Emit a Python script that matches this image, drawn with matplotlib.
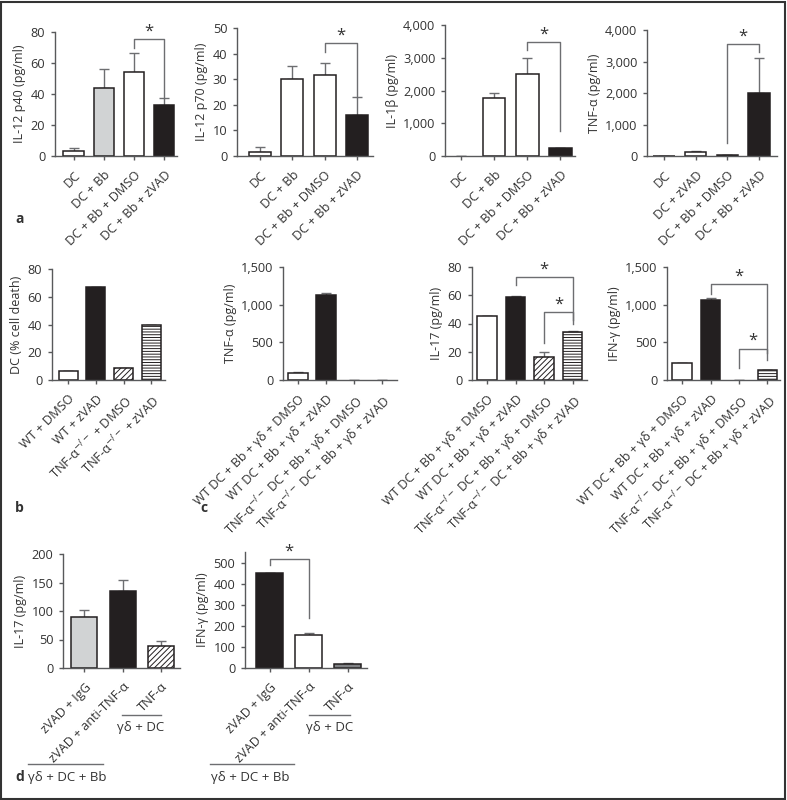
import numpy as np
import matplotlib
matplotlib.use("Agg")
import matplotlib.pyplot as plt
from matplotlib.ticker import FuncFormatter
from matplotlib.lines import Line2D
from matplotlib.patches import Rectangle

plt.rcParams["font.family"] = ["Open Sans", "DejaVu Sans"]
plt.rcParams["font.size"] = 9.2
plt.rcParams["hatch.linewidth"] = 0.7
plt.rcParams["text.color"] = "#333333"
plt.rcParams["axes.labelcolor"] = "#333333"
plt.rcParams["xtick.color"] = "#58595b"
plt.rcParams["ytick.color"] = "#58595b"
plt.rcParams["xtick.labelcolor"] = "#333333"
plt.rcParams["ytick.labelcolor"] = "#333333"

# ── Data ──────────────────────────────────────────────
ko = "TNF-α$^{-/-}$"

a_labels = ["DC", "DC + Bb", "DC + Bb + DMSO", "DC + Bb + zVAD"]
a_tnf_labels = ["DC", "DC + zVAD", "DC + Bb + DMSO", "DC + Bb + zVAD"]
il12p40 = [3.5, 44, 54.5, 33]
il12p40_err = [1.5, 12, 12, 4.5]
il12p70 = [1.5, 30, 31.5, 16]
il12p70_err = [2, 5, 5, 7]
il1b = [0, 1770, 2500, 250]
il1b_err = [0, 140, 500, 0]
a_tnf = [15, 140, 25, 2000]
a_tnf_err = [0, 10, 0, 1100]

b_labels = ["WT + DMSO", "WT + zVAD", ko + " + DMSO", ko + " + zVAD"]
b_death = [6.5, 67, 8.5, 39.5]
b_err = [0, 0, 0, 0]

c_labels = ["WT DC + Bb + γδ + DMSO", "WT DC + Bb + γδ + zVAD",
            ko + " DC + Bb + γδ + DMSO", ko + " DC + Bb + γδ + zVAD"]
c_tnf = [90, 1130, 0, 0]
c_tnf_err = [15, 20, 0, 0]
c_il17 = [45, 59, 16.5, 34]
c_il17_err = [0, 0.6, 3.5, 0.5]
c_ifn = [225, 1060, 0, 130]
c_ifn_err = [5, 25, 0, 5]

d_labels = ["zVAD + IgG", "zVAD + anti-TNF-α", "TNF-α"]
d_il17 = [90, 135, 38]
d_il17_err = [12, 19, 10]
d_ifn = [450, 155, 20]
d_ifn_err = [0, 13, 5]

# ── Styles ────────────────────────────────────────────
EDGE = "#231f20"
BLACK = "#231f20"
LGRAY = "#d1d3d4"
DGRAY = "#808285"
WHITE = "white"
LINE = "#6d6e71"
DIAG = "//////"
HORIZ = "------"

W, H = 787, 800
fig = plt.figure(figsize=(W / 100, H / 100), dpi=100)
fmt = FuncFormatter(lambda v, p: f"{v:,.0f}")


def panel(x0, x1, ytop, ybot, xlim):
    ax = fig.add_axes([x0 / W, 1 - ybot / H, (x1 - x0) / W, (ybot - ytop) / H])
    ax.set_xlim(*xlim)
    for s in ["top", "right"]:
        ax.spines[s].set_visible(False)
    for s in ["left", "bottom"]:
        ax.spines[s].set_color("#58595b")
        ax.spines[s].set_linewidth(1.0)
    ax.tick_params(length=3, width=1.0)
    ax.tick_params(axis="x", pad=6)
    ax.tick_params(axis="y", pad=4)
    return ax


def bars(ax, vals, errs, colors, hatches, labels, ymax, ystep, ylabel, width=0.68, ytop=None):
    x = np.arange(len(vals))
    ax.errorbar(x, vals, yerr=[np.zeros(len(errs)), errs], fmt="none",
                ecolor=LINE, elinewidth=1, capsize=3.5, capthick=1, zorder=1)
    rects = ax.bar(x, vals, width, color=colors, edgecolor=EDGE, linewidth=1.1, zorder=2)
    for r, h, v in zip(rects, hatches, vals):
        if h:
            r.set_hatch(h)
        if v == 0:
            r.set_linewidth(0)
    ax.set_ylim(0, ytop if ytop else ymax)
    ax.set_yticks(np.arange(0, ymax + ystep / 2, ystep))
    ax.yaxis.set_major_formatter(fmt)
    ax.set_xticks(x)
    ax.set_xticklabels(labels, rotation=45, ha="right", rotation_mode="anchor")
    ax.set_ylabel(ylabel, labelpad=3, fontsize=9)


def bracket(ax, x1, x2, top, yl, yr, ystar):
    ax.plot([x1, x1, x2, x2], [yl, top, top, yr], color=LINE, lw=1, clip_on=False)
    ax.text((x1 + x2) / 2, ystar, "*", ha="center", va="center", fontsize=12)


# ── Row a ─────────────────────────────────────────────
ax = panel(55, 177, 32, 156, (-0.62, 3.43))
bars(ax, il12p40, il12p40_err, [WHITE, LGRAY, WHITE, BLACK], [None] * 4,
     a_labels, 80, 20, "IL-12 p40 (pg/ml)")
bracket(ax, 2, 3, 75.5, 69.5, 37.5, 80)

ax = panel(237, 373, 28, 156, (-0.71, 3.5))
bars(ax, il12p70, il12p70_err, [WHITE, WHITE, WHITE, BLACK], [None] * 4,
     a_labels, 50, 10, "IL-12 p70 (pg/ml)")
bracket(ax, 2, 3, 44, 40.7, 23.2, 47)

ax = panel(445, 575, 25, 156, (-0.48, 3.44))
bars(ax, il1b, il1b_err, [WHITE, WHITE, WHITE, BLACK], [None] * 4,
     a_labels, 4000, 1000, "IL-1β (pg/ml)")
bracket(ax, 2, 3, 3480, 3237, 750, 3720)

ax = panel(647, 777, 30, 156, (-0.54, 3.57))
bars(ax, a_tnf, a_tnf_err, [WHITE, WHITE, WHITE, BLACK], [None] * 4,
     a_tnf_labels, 4000, 1000, "TNF-α (pg/ml)")
bracket(ax, 2, 3, 3550, 400, 3310, 3790)

# ── Row b / c ─────────────────────────────────────────
bc_colors = [WHITE, BLACK, WHITE, WHITE]
bc_hatch = [None, None, DIAG, HORIZ]

ax = panel(52, 165, 269, 380, (-0.58, 3.49))
bars(ax, b_death, b_err, bc_colors, bc_hatch, b_labels, 80, 20, "DC (% cell death)")

ax = panel(283, 397, 267, 380, (-0.54, 3.54))
bars(ax, c_tnf, c_tnf_err, bc_colors, bc_hatch, c_labels, 1500, 500, "TNF-α (pg/ml)", width=0.71)

ax = panel(472, 587, 267, 380, (-0.53, 3.5))
bars(ax, c_il17, c_il17_err, bc_colors, bc_hatch, c_labels, 80, 20, "IL-17 (pg/ml)")
bracket(ax, 1, 3, 72.6, 67, 42.4, 78)
bracket(ax, 2, 3, 48, 26, 40, 53)

ax = panel(667, 780, 267, 380, (-0.53, 3.44))
bars(ax, c_ifn, c_ifn_err, bc_colors, bc_hatch, c_labels, 1500, 500, "IFN-γ (pg/ml)")
bracket(ax, 1, 3, 1280, 1148, 357, 1377)
bracket(ax, 2, 3, 410, 155, 270, 520)

# ── Row d ─────────────────────────────────────────────
ax = panel(63, 180, 554, 668, (-0.56, 2.5))
bars(ax, d_il17, d_il17_err, [LGRAY, BLACK, WHITE], [None, None, DIAG],
     d_labels, 200, 50, "IL-17 (pg/ml)")

ax = panel(245, 367, 552, 668, (-0.63, 2.5))
bars(ax, d_ifn, d_ifn_err, [BLACK, WHITE, DGRAY], [None] * 3,
     d_labels, 500, 100, "IFN-γ (pg/ml)", ytop=550)
bracket(ax, 0, 1, 515, 488, 236, 551)


# group lines under panel d
def group(x0, x1, y, text, tx, ha="center"):
    fig.add_artist(Line2D([x0 / W, x1 / W], [1 - y / H] * 2, color=LINE, lw=1))
    fig.text(tx / W, 1 - (y + 13) / H, text, ha=ha, va="center", fontsize=9.5)


group(122, 161, 715, "γδ + DC", 141)
group(28, 103, 764, "γδ + DC + Bb", 28, ha="left")
group(309, 350, 715, "γδ + DC", 330)
group(210, 294, 764, "γδ + DC + Bb", 250)

# ── Panel letters + frame ─────────────────────────────
for lab, px, py in [("a", 15, 219), ("b", 15, 508), ("c", 200, 508), ("d", 15, 777)]:
    fig.text(px / W, 1 - py / H, lab, fontweight="bold", fontsize=10, va="center")

fig.add_artist(Rectangle((0.001, 0.001), 0.997, 0.997, transform=fig.transFigure,
                         fill=False, ec="#333333", lw=1.5))

fig.savefig("out.png", dpi=100)
